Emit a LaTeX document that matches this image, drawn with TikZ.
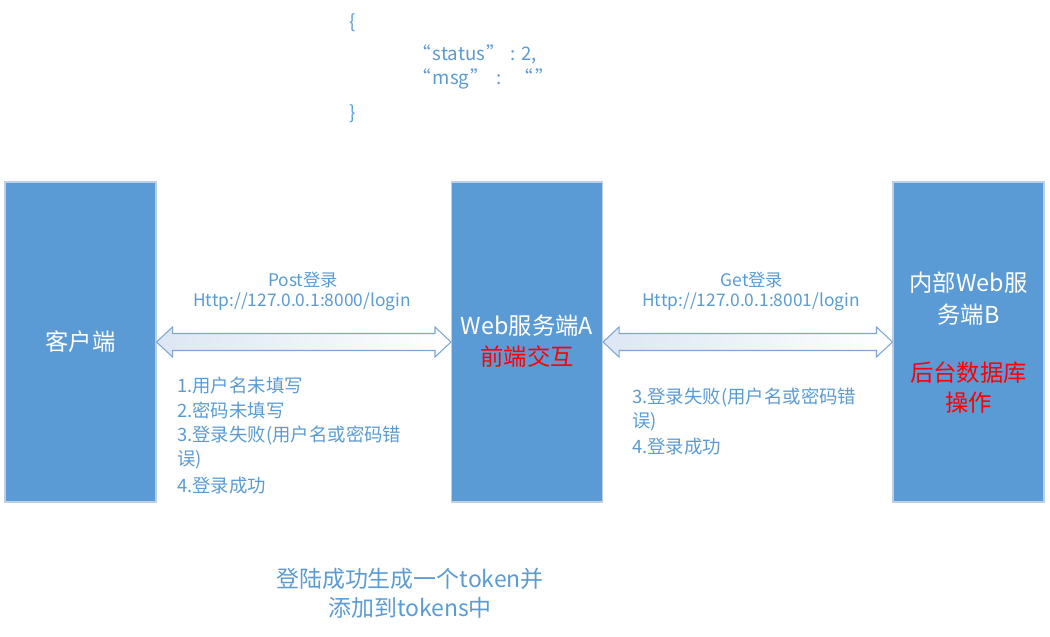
\documentclass[tikz,border=0pt]{standalone}
\usepackage{fontspec}
\setmainfont{Noto Sans CJK SC}
\usetikzlibrary{calc}
\definecolor{boxblue}{HTML}{5B9BD5}
\definecolor{boxedge}{HTML}{BFCFE3}
\definecolor{txtblue}{HTML}{5B9BD5}
\definecolor{arrowedge}{HTML}{7FA6D3}
\definecolor{arrowfill}{HTML}{DDE6F4}
\begin{document}
\begin{tikzpicture}[x=0.75pt,y=-0.75pt,
  box/.style={fill=boxblue,draw=boxedge,line width=0.8pt,minimum width=113.25pt,minimum height=240pt,inner sep=0pt},
  wtxt/.style={text=white,font=\fontsize{17.5}{21}\selectfont,inner sep=0pt},
  rtxt/.style={text=red,font=\fontsize{17.5}{21}\selectfont,inner sep=0pt},
  btxt/.style={text=txtblue,font=\fontsize{13}{18}\selectfont,inner sep=0pt},
  ltxt/.style={text=txtblue,font=\fontsize{13.8}{18}\selectfont,inner sep=0pt,anchor=west},
  jtxt/.style={text=txtblue,font=\fontsize{14}{18}\selectfont,inner sep=0pt,anchor=west},
  ftxt/.style={text=txtblue,font=\fontsize{17.2}{20}\selectfont,inner sep=0pt},
  bigarrow/.style={draw=arrowedge,line width=0.8pt,left color=arrowfill,right color=white,line join=miter}]
\useasboundingbox (0,0) rectangle (1050,636);

% boxes
\node[box] (cl) at (80.5,342) {};
\node[box] (wa) at (527,342) {};
\node[box] (wb) at (968.5,342) {};

\node[wtxt] (clt) at (cl) {客户端};
\node[wtxt] (wat) at ($(wa)+(0,-16)$) {Web服务端A};
\node[rtxt] (war) at ($(wa)+(0,15)$) {前端交互};
\node[wtxt] (wbt1) at ($(wb)+(0,-59)$) {内部Web服};
\node[wtxt] (wbt2) at ($(wb)+(0,-27)$) {务端B};
\node[rtxt] (wbr1) at ($(wb)+(0,31)$) {后台数据库};
\node[rtxt] (wbr2) at ($(wb)+(0,61)$) {操作};

% double block arrows
\draw[bigarrow] (cl.east) -- ++(16,-15) -- ++(0,6.5) -- ($(wa.west)+(-16,-8.5)$) -- ++(0,-6.5)
  -- (wa.west) -- ++(-16,15) -- ++(0,-6.5) -- ($(cl.east)+(16,8.5)$) -- ++(0,6.5) -- cycle;
\draw[bigarrow] (wa.east) -- ++(16,-15) -- ++(0,6.5) -- ($(wb.west)+(-16,-8.5)$) -- ++(0,-6.5)
  -- (wb.west) -- ++(-16,15) -- ++(0,-6.5) -- ($(wa.east)+(16,8.5)$) -- ++(0,6.5) -- cycle;

% arrow labels
\node[btxt] (p1) at (303,280) {Post登录};
\node[btxt] (p2) at (302,302) {Http://127.0.0.1:8000/login};
\node[btxt] (g1) at (752,280) {Get登录};
\node[btxt] (g2) at (751,302) {Http://127.0.0.1:8001/login};

% left list
\node[ltxt] (l1) at (177,386) {1.用户名未填写};
\node[ltxt] (l2) at (177,410) {2.密码未填写};
\node[ltxt] (l3) at (177,435) {3.登录失败(用户名或密码错};
\node[ltxt] (l4) at (177,460) {误)};
\node[ltxt] (l5) at (177,486) {4.登录成功};

% right list
\node[ltxt] (r1) at (632,397) {3.登录失败(用户名或密码错};
\node[ltxt] (r2) at (632,422) {误)};
\node[ltxt] (r3) at (632,447) {4.登录成功};

% JSON
\node[jtxt] (j1) at (349,23) {\{};
\node[jtxt] (j2) at (412,54) {“\hspace{1.5pt}status\hspace{1pt}”\hspace{4pt}: 2,};
\node[jtxt] (j3) at (412,79) {“\hspace{1.5pt}msg\hspace{1pt}”\hspace{5pt}:\hspace{10pt}“\hspace{1.5pt}”};
\node[jtxt] (j4) at (349,114) {\}};

% bottom
\node[ftxt] (b1) at (410,579) {登陆成功生成一个token并};
\node[ftxt] (b2) at (410,608) {添加到tokens中};
\end{tikzpicture}
\end{document}
